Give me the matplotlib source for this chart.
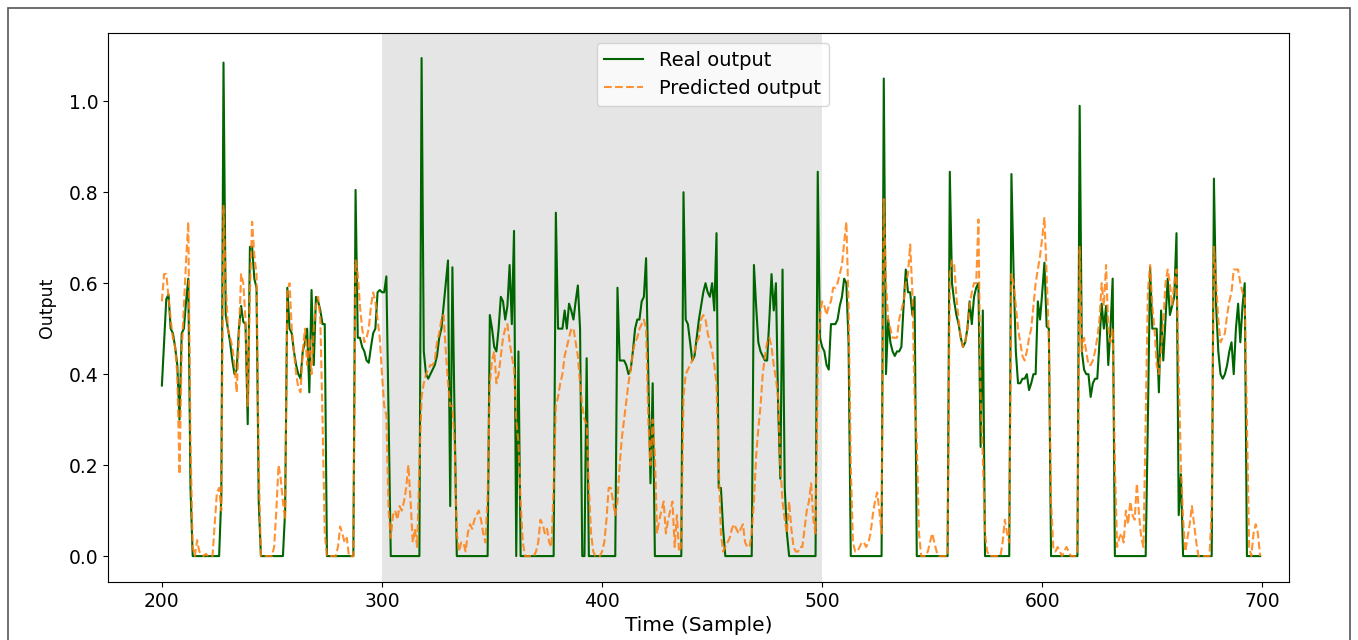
import numpy as np
import matplotlib
matplotlib.use("Agg")
import matplotlib.pyplot as plt
from matplotlib.patches import Rectangle

# measured output, one value per sample starting at sample 200
real_output = [
    0.375, 0.47, 0.565, 0.575, 0.50, 0.49, 0.46, 0.42, 0.30, 0.49, 0.50, 0.56, 0.61, 0.15,
    0, 0, 0, 0, 0, 0, 0, 0, 0, 0, 0, 0, 0,
    0.13, 1.085, 0.53, 0.50, 0.47, 0.43, 0.40, 0.41, 0.50, 0.55, 0.515, 0.51, 0.29, 0.68, 0.68, 0.61, 0.59, 0.12,
    0, 0, 0, 0, 0, 0, 0, 0, 0, 0, 0,
    0.10, 0.59, 0.50, 0.49, 0.45, 0.42, 0.40, 0.39, 0.45, 0.47, 0.50, 0.36, 0.585, 0.42, 0.57, 0.56, 0.54, 0.51, 0.51,
    0, 0, 0, 0, 0, 0, 0, 0, 0, 0, 0, 0, 0,
    0.805, 0.48, 0.48, 0.46, 0.45, 0.43, 0.425, 0.46, 0.49, 0.50, 0.58, 0.585, 0.58, 0.58, 0.615, 0.30,
    0, 0, 0, 0, 0, 0, 0, 0, 0, 0, 0, 0, 0, 0,
    1.095, 0.45, 0.40, 0.39, 0.40, 0.41, 0.42, 0.44, 0.48, 0.50, 0.55, 0.60, 0.65, 0.11, 0.635, 0.30,
    0, 0, 0, 0, 0, 0, 0, 0, 0, 0, 0, 0, 0, 0, 0,
    0.53, 0.50, 0.46, 0.45, 0.50, 0.57, 0.56, 0.52, 0.55, 0.64, 0.51, 0.715, 0.0, 0.45,
    0, 0, 0, 0, 0, 0, 0, 0, 0, 0, 0, 0, 0, 0, 0, 0,
    0.755, 0.50, 0.50, 0.50, 0.54, 0.50, 0.555, 0.54, 0.52, 0.56, 0.595, 0.50, 0.0, 0.0, 0.435,
    0, 0, 0, 0, 0, 0, 0, 0, 0, 0, 0, 0, 0,
    0.59, 0.43, 0.43, 0.43, 0.42, 0.40, 0.41, 0.45, 0.50, 0.52, 0.52, 0.56, 0.57, 0.655, 0.40, 0.16, 0.38,
    0, 0, 0, 0, 0, 0, 0, 0, 0, 0, 0, 0, 0,
    0.80, 0.52, 0.51, 0.47, 0.43, 0.44, 0.48, 0.52, 0.55, 0.58, 0.60, 0.58, 0.57, 0.60, 0.54, 0.71, 0.15, 0.15, 0.06,
    0, 0, 0, 0, 0, 0, 0, 0, 0, 0, 0, 0, 0,
    0.64, 0.55, 0.47, 0.45, 0.44, 0.43, 0.43, 0.52, 0.62, 0.54, 0.60, 0.33, 0.17, 0.63, 0.15, 0.05,
    0, 0, 0, 0, 0, 0, 0, 0, 0, 0, 0, 0, 0,
    0.845, 0.48, 0.46, 0.45, 0.42, 0.41, 0.51, 0.51, 0.51, 0.52, 0.55, 0.57, 0.61, 0.60, 0.47,
    0, 0, 0, 0, 0, 0, 0, 0, 0, 0, 0, 0, 0, 0, 0,
    1.05, 0.40, 0.52, 0.47, 0.45, 0.44, 0.45, 0.45, 0.46, 0.55, 0.63, 0.58, 0.58, 0.53, 0.57,
    0, 0, 0, 0, 0, 0, 0, 0, 0, 0, 0, 0, 0, 0, 0,
    0.845, 0.60, 0.56, 0.53, 0.51, 0.48, 0.46, 0.47, 0.50, 0.56, 0.51, 0.57, 0.59, 0.60, 0.24, 0.54,
    0, 0, 0, 0, 0, 0, 0, 0, 0, 0, 0, 0,
    0.84, 0.62, 0.45, 0.38, 0.38, 0.39, 0.39, 0.40, 0.365, 0.38, 0.40, 0.40, 0.56, 0.52, 0.58, 0.645, 0.505, 0.50,
    0, 0, 0, 0, 0, 0, 0, 0, 0, 0, 0, 0, 0,
    0.99, 0.45, 0.41, 0.40, 0.40, 0.35, 0.38, 0.39, 0.39, 0.47, 0.555, 0.50, 0.55, 0.42, 0.50, 0.61,
    0, 0, 0, 0, 0, 0, 0, 0, 0, 0, 0, 0, 0, 0, 0,
    0.30, 0.635, 0.50, 0.50, 0.50, 0.36, 0.54, 0.43, 0.52, 0.61, 0.53, 0.55, 0.57, 0.71, 0.09, 0.18,
    0, 0, 0, 0, 0, 0, 0, 0, 0, 0, 0, 0, 0, 0,
    0.83, 0.55, 0.45, 0.40, 0.39, 0.40, 0.42, 0.45, 0.47, 0.40, 0.50, 0.555, 0.47, 0.55, 0.60,
    0, 0, 0, 0, 0, 0, 0,
]

# model prediction for the same samples
predicted_output = [
    0.56, 0.62, 0.62, 0.57, 0.52, 0.48, 0.46, 0.40, 0.18, 0.45, 0.55, 0.65, 0.735, 0.25,
    0.02, 0.0, 0.035, 0.01, 0.005, 0.0, 0.005, 0.0, 0.0, 0.0, 0.07, 0.14, 0.15, 0.10,
    0.77, 0.60, 0.50, 0.48, 0.46, 0.42, 0.36, 0.48, 0.62, 0.60, 0.52, 0.33, 0.58, 0.735, 0.66, 0.62, 0.20,
    0.0, 0.0, 0.0, 0.0, 0.0, 0.0, 0.02, 0.10, 0.20, 0.17, 0.12, 0.08,
    0.58, 0.60, 0.50, 0.45, 0.40, 0.37, 0.36, 0.45, 0.50, 0.42, 0.48, 0.40, 0.50, 0.55, 0.57, 0.52, 0.30, 0.05,
    0.0, 0.0, 0.0, 0.0, 0.0, 0.02, 0.065, 0.05, 0.03, 0.04, 0.0, 0.0, 0.0,
    0.65, 0.62, 0.55, 0.50, 0.47, 0.48, 0.50, 0.55, 0.58, 0.56, 0.52, 0.48, 0.40, 0.33, 0.31, 0.10,
    0.04, 0.09, 0.10, 0.08, 0.11, 0.10, 0.12, 0.15, 0.20, 0.12, 0.03, 0.06, 0.02, 0.20,
    0.35, 0.38, 0.40, 0.41, 0.42, 0.42, 0.43, 0.47, 0.49, 0.52, 0.53, 0.45, 0.38, 0.33, 0.33, 0.25,
    0.05, 0.01, 0.03, 0.03, 0.01, 0.05, 0.07, 0.06, 0.08, 0.09, 0.10, 0.08, 0.05, 0.03, 0.13,
    0.38, 0.43, 0.45, 0.38, 0.40, 0.44, 0.48, 0.50, 0.51, 0.47, 0.44, 0.41, 0.30, 0.25,
    0.12, 0.03, 0.0, 0.0, 0.0, 0.0, 0.0, 0.01, 0.03, 0.08, 0.07, 0.05, 0.06, 0.03, 0.02, 0.15,
    0.33, 0.35, 0.38, 0.40, 0.44, 0.46, 0.48, 0.50, 0.50, 0.47, 0.44, 0.38, 0.33, 0.30, 0.29,
    0.15, 0.05, 0.01, 0.0, 0.0, 0.0, 0.01, 0.03, 0.08, 0.15, 0.15, 0.12, 0.09,
    0.12, 0.20, 0.26, 0.30, 0.34, 0.38, 0.41, 0.45, 0.47, 0.48, 0.50, 0.51, 0.52, 0.50, 0.30, 0.20, 0.30,
    0.22, 0.05, 0.08, 0.10, 0.12, 0.05, 0.08, 0.10, 0.12, 0.02, 0.09, 0.01, 0.02,
    0.35, 0.40, 0.41, 0.42, 0.43, 0.45, 0.47, 0.48, 0.52, 0.53, 0.52, 0.49, 0.47, 0.45, 0.42, 0.38, 0.20, 0.05, 0.01,
    0.02, 0.03, 0.04, 0.06, 0.07, 0.06, 0.05, 0.06, 0.07, 0.03, 0.02, 0.02, 0.05,
    0.12, 0.22, 0.28, 0.33, 0.40, 0.44, 0.47, 0.48, 0.46, 0.42, 0.39, 0.35, 0.20, 0.12, 0.08, 0.05,
    0.12, 0.06, 0.02, 0.01, 0.01, 0.02, 0.02, 0.06, 0.10, 0.12, 0.16, 0.08, 0.05,
    0.42, 0.53, 0.56, 0.55, 0.53, 0.55, 0.56, 0.59, 0.59, 0.60, 0.62, 0.64, 0.69, 0.735, 0.55,
    0.20, 0.03, 0.01, 0.01, 0.02, 0.03, 0.03, 0.02, 0.03, 0.05, 0.09, 0.12, 0.14, 0.10, 0.05,
    0.785, 0.60, 0.52, 0.50, 0.48, 0.48, 0.48, 0.52, 0.54, 0.56, 0.60, 0.62, 0.685, 0.58, 0.35,
    0.25, 0.05, 0.0, 0.0, 0.0, 0.01, 0.03, 0.05, 0.03, 0.01, 0.0, 0.0, 0.0, 0.0, 0.0,
    0.62, 0.65, 0.64, 0.57, 0.52, 0.48, 0.46, 0.47, 0.50, 0.55, 0.58, 0.60, 0.60, 0.74, 0.35, 0.22,
    0.05, 0.01, 0.0, 0.0, 0.0, 0.0, 0.0, 0.0, 0.03, 0.08, 0.05, 0.03,
    0.62, 0.60, 0.55, 0.50, 0.47, 0.44, 0.43, 0.45, 0.48, 0.50, 0.55, 0.60, 0.63, 0.66, 0.70, 0.745, 0.62, 0.48,
    0.12, 0.02, 0.01, 0.02, 0.01, 0.0, 0.01, 0.02, 0.01, 0.0, 0.0, 0.0, 0.01,
    0.68, 0.45, 0.48, 0.45, 0.42, 0.42, 0.43, 0.45, 0.48, 0.52, 0.60, 0.55, 0.64, 0.50, 0.47, 0.50,
    0.20, 0.02, 0.04, 0.05, 0.03, 0.10, 0.07, 0.12, 0.09, 0.08, 0.16, 0.09, 0.04, 0.02, 0.30,
    0.58, 0.64, 0.55, 0.50, 0.42, 0.40, 0.45, 0.52, 0.60, 0.63, 0.60, 0.55, 0.60, 0.63, 0.40, 0.20,
    0.08, 0.01, 0.04, 0.07, 0.11, 0.07, 0.03, 0.0, 0.0, 0.0, 0.0, 0.0, 0.0, 0.10,
    0.68, 0.60, 0.52, 0.47, 0.48, 0.49, 0.53, 0.56, 0.58, 0.63, 0.63, 0.63, 0.60, 0.58, 0.57,
    0.30, 0.02, 0.0, 0.05, 0.07, 0.05, 0.0,
]

first_sample = 200
highlight_span = (300, 500)
x_ticks = [200, 300, 400, 500, 600, 700]
y_ticks = [0.0, 0.2, 0.4, 0.6, 0.8, 1.0]

x_real = np.arange(first_sample, first_sample + len(real_output))
x_pred = np.arange(first_sample, first_sample + len(predicted_output))

fig = plt.figure(figsize=(13.58, 6.4), dpi=100)
ax = fig.add_axes([0.0795, 0.0906, 0.8695, 0.8578])

ax.axvspan(*highlight_span, color="gray", alpha=0.2, lw=0)
ax.plot(x_real, real_output, color="darkgreen", lw=1.5, label="Real output")
ax.plot(x_pred, predicted_output, color="tab:orange", lw=1.5, ls="--",
        alpha=0.85, label="Predicted output")

ax.set_xlim(175.5, 712)
ax.set_ylim(-0.057, 1.15)
ax.set_xticks(x_ticks)
ax.set_yticks(y_ticks)
ax.tick_params(labelsize=13.5)
ax.set_xlabel("Time (Sample)", fontsize=14.5, labelpad=4)
ax.set_ylabel("Output", fontsize=12.5)
ax.yaxis.set_label_coords(-0.044, 0.5)

ax.legend(loc="upper center", bbox_to_anchor=(0.512, 1.0), fontsize=14)

# thin frame round the whole figure
fig.patches.append(Rectangle((8 / 1358, -0.02), 1342 / 1358, 632 / 640 + 0.02,
                             transform=fig.transFigure, fill=False,
                             edgecolor="#555555", lw=1.2))

fig.savefig("out.png", dpi=100)
